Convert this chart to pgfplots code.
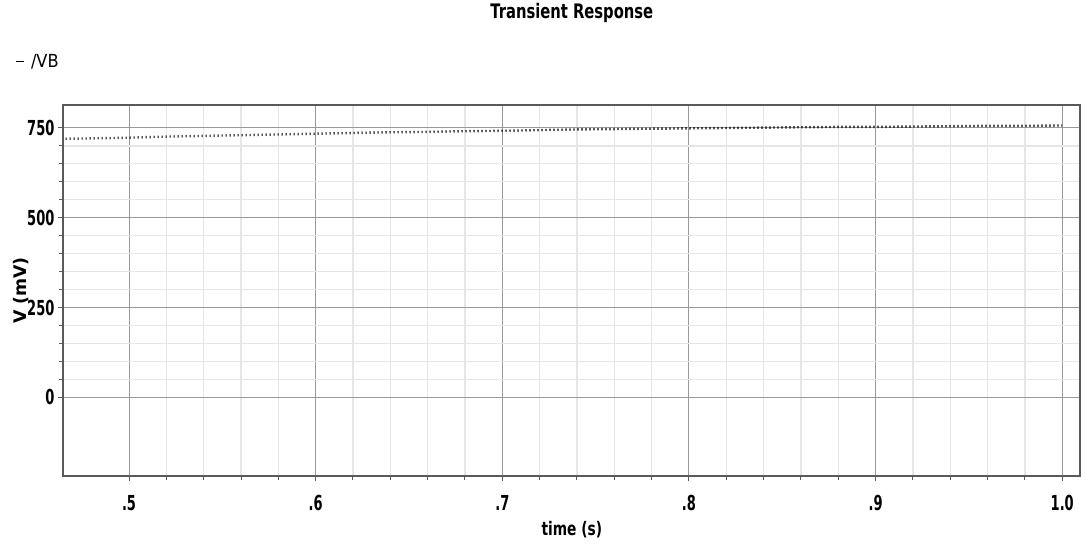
\documentclass[border=0pt]{standalone}
\usepackage{pgfplots}
\pgfplotsset{compat=1.18}
\usepackage{fontspec}
\setmainfont{DejaVuSansCondensed.ttf}[BoldFont=DejaVuSansCondensed-Bold.ttf]
\newfontfamily\narrowbold{DejaVuSansCondensed-Bold.ttf}[FakeStretch=0.82]
\newfontfamily\tickbold{DejaVuSansCondensed-Bold.ttf}[FakeStretch=0.7]
\newfontfamily\labelbold{DejaVuSans-Bold.ttf}

\definecolor{framegray}{HTML}{5A5A5A}
\definecolor{majgrid}{HTML}{999999}
\definecolor{mingrid}{HTML}{E6E6E6}

\begin{document}
\begin{tikzpicture}
% page = 1086 x 544 px, 1 px = 0.75pt, axis box at (63,105)-(1080,476)
\path[use as bounding box] (-47.5pt,-51pt) rectangle (767pt,357pt);
\begin{axis}[
    at={(0,0)}, anchor=south west,
    scale only axis,
    width=762.75pt, height=278.25pt,
    xmin=0.4648, xmax=1.0097,
    ymin=-219, ymax=814,
    xtick={0.5,0.6,0.7,0.8,0.9,1.0},
    xticklabels={.5,.6,.7,.8,.9,1.0},
    ytick={0,250,500,750},
    minor x tick num=4,
    minor y tick num=4,
    xtick pos=bottom, ytick pos=left,
    tick align=outside,
    major tick length=4pt, minor tick length=3pt,
    tick style={framegray, line width=0.75pt},
    grid=both,
    major grid style={majgrid, line width=0.75pt},
    minor grid style={mingrid, line width=0.9pt},
    axis line style={framegray, line width=1.5pt},
    /pgf/number format/assume math mode=true,
    ticklabel style={font=\tickbold\fontsize{15.5}{17}\selectfont},
    yticklabel style={anchor=east, inner sep=0pt, xshift=-2.5pt},
    xticklabel style={anchor=base, inner sep=0pt, yshift=-22pt},
    title={Transient Response},
    title style={at={(0.5,1)}, anchor=base, yshift=59pt,
        font=\narrowbold\fontsize{15}{17}\selectfont},
    xlabel={time (s)},
    xlabel style={at={(axis description cs:0.5,-0.1456)}, anchor=center,
        font=\narrowbold\fontsize{14}{16}\selectfont},
    ylabel={V (mV)},
    ylabel style={at={(axis description cs:-0.0416,0.5)}, anchor=center,
        font=\labelbold\fontsize{13}{15}\selectfont},
    legend style={at={(axis description cs:-0.0475,1.116)}, anchor=west,
        draw=none, fill=none, inner sep=0pt,
        font=\fontsize{13.5}{15}\selectfont},
    legend image code/.code={\draw[solid, black, line width=0.8pt] (0pt,0pt) -- (6pt,0pt);
        \path (8.5pt,0pt);},
]
\addplot[black, line width=1.8pt, dash pattern=on 0.8pt off 2.2pt] coordinates {
    (0.466,720) (0.48,721) (0.50,723) (0.52,726) (0.54,728)
    (0.56,730) (0.58,732) (0.60,734) (0.62,736) (0.64,738)
    (0.66,739) (0.68,741) (0.70,742) (0.72,744) (0.74,746)
    (0.76,747) (0.78,748) (0.80,749) (0.82,750) (0.84,751)
    (0.86,752) (0.88,753) (0.90,753) (0.92,754) (0.94,755)
    (0.96,756) (0.98,756) (1.00,757)
};
\addlegendentry{/VB}
\end{axis}
\end{tikzpicture}
\end{document}
